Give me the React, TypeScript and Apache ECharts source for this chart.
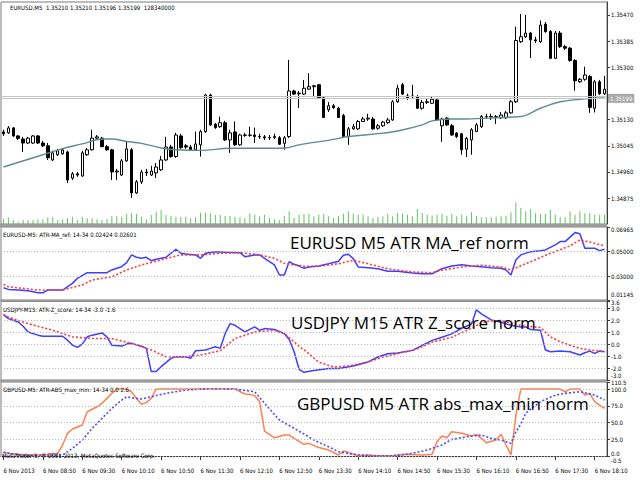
import React, { useEffect, useRef } from "react";
import * as echarts from "echarts";

// ---------- categories (M5 bars, 6 Nov 2013) ----------
const BAR_COUNT = 123;
const FIRST_BAR_MINUTES = 8 * 60 + 10;
const BAR_MINUTES = 5;
const CATEGORIES: string[] = Array.from({ length: BAR_COUNT }, (_, i) => {
  const m = FIRST_BAR_MINUTES + BAR_MINUTES * i;
  return String(Math.floor(m / 60)).padStart(2, "0") + ":" + String(m % 60).padStart(2, "0");
});
const LABEL_EVERY = 8;
const FIRST_LABEL = "6 Nov 2013";
const DAY_PREFIX = "6 Nov ";

// ---------- texts ----------
const HEADER = "EURUSD,M5\u00a0\u00a01.35210 1.35210 1.35196 1.35199\u00a0\u00a0128340000";
const SUB1 = "EURUSD-M5: ATR-MA_ref: 14-34 0.02424 0.02601";
const SUB2 = "USDJPY-M15: ATR-Z_score: 14-34 -3.0 -1.6";
const SUB3 = "GBPUSD-M5: ATR-ABS_max_min: 14-34 0.0 2.6";
const COPYRIGHT = "MetaTrader 5, \u00a9 2001-2013, MetaQuotes Software Corp.";
const TITLE1 = "EURUSD M5 ATR MA_ref norm";
const TITLE2 = "USDJPY M15 ATR Z_score norm";
const TITLE3 = "GBPUSD M5 ATR abs_max_min norm";

// ---------- price (open, close, low, high) ----------
const CANDLES: number[][] = [
  [1.3509, 1.35084, 1.35077, 1.35097], [1.35087, 1.35103, 1.35084, 1.35109], [1.35103, 1.35077, 1.35074, 1.35106],
  [1.35077, 1.35069, 1.35064, 1.3508], [1.35067, 1.35054, 1.35025, 1.35074], [1.35054, 1.3507, 1.35051, 1.35074],
  [1.35054, 1.35077, 1.35051, 1.3508], [1.35077, 1.35054, 1.35051, 1.3508], [1.35054, 1.35045, 1.35041, 1.35061],
  [1.35045, 1.35006, 1.34999, 1.35054], [1.34999, 1.35022, 1.34996, 1.35029], [1.35016, 1.35029, 1.35012, 1.35035],
  [1.35019, 1.35032, 1.35016, 1.35035], [1.35025, 1.34934, 1.34924, 1.35029], [1.3494, 1.34954, 1.34934, 1.3496],
  [1.34954, 1.3495, 1.34944, 1.3496], [1.34947, 1.35022, 1.34944, 1.35029], [1.35016, 1.35032, 1.35012, 1.35038],
  [1.35032, 1.3507, 1.35029, 1.35097], [1.3507, 1.35074, 1.35064, 1.3508], [1.3507, 1.35042, 1.35041, 1.35074],
  [1.35042, 1.35032, 1.35029, 1.35048], [1.35032, 1.3496, 1.34934, 1.35035], [1.3496, 1.34963, 1.34934, 1.3497],
  [1.3495, 1.34996, 1.34947, 1.35002], [1.34996, 1.35035, 1.34993, 1.35058], [1.35032, 1.34892, 1.34876, 1.35038],
  [1.34892, 1.34928, 1.34889, 1.34934], [1.34928, 1.3496, 1.34921, 1.34967], [1.3496, 1.34957, 1.34947, 1.3497],
  [1.3495, 1.34963, 1.34947, 1.3498], [1.34957, 1.34976, 1.3494, 1.34989], [1.34967, 1.34999, 1.34963, 1.35012],
  [1.34999, 1.35041, 1.34996, 1.35074], [1.35041, 1.3501, 1.35006, 1.35048], [1.3501, 1.3508, 1.35006, 1.35087],
  [1.35077, 1.35039, 1.35035, 1.35084], [1.35045, 1.35041, 1.35035, 1.35051], [1.35041, 1.35032, 1.35029, 1.35048],
  [1.35032, 1.35051, 1.35029, 1.35091], [1.35048, 1.35091, 1.3501, 1.35097], [1.35091, 1.3521, 1.35087, 1.35214],
  [1.3521, 1.35113, 1.35109, 1.35214], [1.35115, 1.35104, 1.351, 1.35119], [1.35107, 1.3512, 1.35103, 1.3514],
  [1.3512, 1.35064, 1.35061, 1.35126], [1.35064, 1.35087, 1.35022, 1.35097], [1.3509, 1.35048, 1.35045, 1.35124],
  [1.35048, 1.3508, 1.35045, 1.35084], [1.3508, 1.35079, 1.35074, 1.35087], [1.35079, 1.3508, 1.35074, 1.35107],
  [1.3508, 1.35075, 1.35054, 1.35104], [1.35075, 1.35074, 1.35067, 1.35084], [1.35074, 1.35071, 1.35064, 1.3508],
  [1.35071, 1.35072, 1.35064, 1.3508], [1.35072, 1.35075, 1.35067, 1.35084], [1.35071, 1.3505, 1.35048, 1.35077],
  [1.35053, 1.35071, 1.35032, 1.35077], [1.35075, 1.35223, 1.3507, 1.35324], [1.35223, 1.35213, 1.3521, 1.35227],
  [1.35214, 1.35216, 1.35168, 1.35223], [1.35213, 1.35232, 1.3521, 1.35259], [1.35229, 1.35237, 1.35227, 1.35281],
  [1.35237, 1.3524, 1.35204, 1.35243], [1.35243, 1.35201, 1.352, 1.35246], [1.35201, 1.35137, 1.35136, 1.35207],
  [1.35162, 1.35175, 1.35155, 1.35187], [1.35175, 1.35169, 1.35165, 1.35181], [1.35167, 1.35137, 1.35136, 1.35171],
  [1.35143, 1.35075, 1.3507, 1.35149], [1.35075, 1.351, 1.35048, 1.35106], [1.351, 1.35107, 1.35097, 1.35116],
  [1.351, 1.35124, 1.35097, 1.35129], [1.35124, 1.35132, 1.35123, 1.35139], [1.35132, 1.35135, 1.35126, 1.35149],
  [1.35132, 1.351, 1.35097, 1.35139], [1.35102, 1.3511, 1.35097, 1.35116], [1.3511, 1.35122, 1.35106, 1.35126],
  [1.3512, 1.35129, 1.35116, 1.35136], [1.35129, 1.35188, 1.35126, 1.35194], [1.35188, 1.35232, 1.35184, 1.35243],
  [1.35243, 1.35213, 1.3521, 1.35249], [1.35207, 1.35201, 1.35194, 1.35214], [1.35204, 1.35207, 1.352, 1.35243],
  [1.35205, 1.35167, 1.35165, 1.3521], [1.35167, 1.35186, 1.35162, 1.35194], [1.35186, 1.35188, 1.35181, 1.352],
  [1.35183, 1.35196, 1.35181, 1.35204], [1.35194, 1.35129, 1.35126, 1.352], [1.3511, 1.35132, 1.35058, 1.35136],
  [1.35135, 1.35113, 1.35109, 1.35139], [1.3511, 1.3508, 1.35077, 1.35116], [1.35086, 1.35075, 1.3507, 1.3509],
  [1.35084, 1.35032, 1.35016, 1.35087], [1.35034, 1.35069, 1.35009, 1.35074], [1.35064, 1.35097, 1.35016, 1.35103],
  [1.35091, 1.35113, 1.3509, 1.35119], [1.35107, 1.3514, 1.35103, 1.35145], [1.35139, 1.3514, 1.35132, 1.35149],
  [1.3514, 1.35139, 1.35129, 1.35149], [1.35139, 1.3514, 1.35116, 1.35145], [1.35136, 1.35145, 1.35132, 1.35155],
  [1.35136, 1.35152, 1.35132, 1.35158], [1.35152, 1.35188, 1.35149, 1.35194], [1.35188, 1.35387, 1.35184, 1.35432],
  [1.35383, 1.35399, 1.35379, 1.35473], [1.35399, 1.35411, 1.35395, 1.3547], [1.35411, 1.35389, 1.3533, 1.35415],
  [1.35389, 1.35386, 1.35379, 1.35399], [1.35383, 1.35437, 1.35379, 1.35452], [1.3544, 1.35416, 1.35412, 1.35447],
  [1.35416, 1.35329, 1.35327, 1.35421], [1.35329, 1.35411, 1.35327, 1.35418], [1.35411, 1.35367, 1.35363, 1.35418],
  [1.35367, 1.35362, 1.35356, 1.35373], [1.35362, 1.35322, 1.35318, 1.35366], [1.35322, 1.35256, 1.35224, 1.35327],
  [1.35253, 1.35261, 1.35249, 1.35265], [1.35261, 1.35275, 1.35256, 1.35302], [1.3527, 1.3517, 1.35152, 1.35275],
  [1.35167, 1.35253, 1.35153, 1.35259], [1.35253, 1.35214, 1.3521, 1.35259], [1.35214, 1.35229, 1.3521, 1.35272],
];

const VOLUMES: number[] = [
  200, 268, 160, 92, 160, 160, 160, 188, 188, 268,
  292, 160, 188, 228, 292, 160, 292, 228, 228, 188,
  160, 188, 320, 320, 292, 400, 452, 400, 292, 188,
  360, 492, 560, 360, 320, 292, 292, 292, 228, 268,
  452, 452, 428, 360, 360, 320, 320, 292, 268, 240,
  428, 372, 308, 372, 240, 200, 148, 332, 508, 240,
  372, 412, 412, 308, 372, 412, 308, 240, 308, 412,
  508, 412, 372, 372, 308, 240, 280, 308, 412, 308,
  440, 412, 372, 308, 600, 440, 372, 332, 372, 412,
  332, 412, 308, 372, 308, 468, 332, 268, 268, 268,
  292, 332, 332, 468, 868, 640, 508, 600, 428, 400,
  400, 560, 372, 292, 268, 508, 372, 508, 428, 428,
  372, 372, 372,
];

// moving average on price: [bar index, value]
const MA_POINTS: number[][] = [
  [0, 1.34976], [8, 1.35016], [12, 1.35036], [16, 1.35051], [20, 1.35067], [22, 1.35067], [25, 1.35059],
  [28, 1.35053], [32, 1.35038], [35, 1.35032], [40, 1.3503], [46, 1.35037], [52, 1.35037], [57, 1.35038],
  [60, 1.35048], [67, 1.35066], [70, 1.35075], [77, 1.35086], [80, 1.35093], [85, 1.35113], [87, 1.35126],
  [91, 1.35132], [94, 1.35132], [101, 1.35137], [105, 1.3514], [109, 1.35167], [113, 1.35188], [117, 1.35196],
  [122, 1.352],
];
const BID = 1.35199;
const ASK = 1.35206;

// ---------- panel 2: EURUSD ATR MA_ref ----------
const ATR_MA_BLUE: number[][] = [
  [0, 0.0212], [1, 0.0199], [3, 0.0194], [5, 0.0188], [7, 0.0172], [8, 0.0172], [9, 0.0194], [12, 0.0194],
  [14, 0.0247], [15, 0.0287], [17, 0.0332], [21, 0.0332], [22, 0.0354], [23, 0.0367], [24, 0.038], [25, 0.0412],
  [26, 0.0474], [27, 0.0455], [28, 0.0447], [29, 0.0455], [30, 0.0428], [31, 0.0439], [33, 0.0455], [34, 0.0487],
  [35, 0.0519], [36, 0.0487], [37, 0.0482], [39, 0.0474], [40, 0.0447], [41, 0.0487], [43, 0.05], [45, 0.0495],
  [48, 0.0492], [49, 0.046], [51, 0.0474], [52, 0.0474], [53, 0.0447], [55, 0.0394], [56, 0.0314], [57, 0.0314],
  [58, 0.042], [59, 0.0399], [60, 0.0385], [61, 0.0367], [62, 0.0378], [64, 0.0386], [66, 0.0404], [68, 0.0423],
  [69, 0.0471], [70, 0.0479], [71, 0.0444], [72, 0.0378], [74, 0.0372], [76, 0.0364], [78, 0.0343], [80, 0.0343],
  [83, 0.033], [85, 0.0324], [87, 0.0324], [89, 0.0364], [91, 0.0386], [93, 0.0396], [95, 0.0386], [97, 0.038],
  [99, 0.0372], [101, 0.0367], [102, 0.0354], [103, 0.0314], [104, 0.0434], [105, 0.0474], [107, 0.05],
  [109, 0.0508], [110, 0.0514], [112, 0.0554], [113, 0.058], [114, 0.058], [116, 0.0652], [117, 0.0642],
  [118, 0.0527], [120, 0.0527], [121, 0.0508], [122, 0.0519],
];
const ATR_MA_RED: number[][] = [
  [0, 0.0239], [1, 0.022], [7, 0.0194], [12, 0.0194], [16, 0.0234], [18, 0.0274], [22, 0.03], [25, 0.0354],
  [28, 0.0394], [32, 0.0434], [36, 0.0474], [40, 0.0474], [44, 0.0487], [48, 0.0492], [52, 0.0474], [55, 0.0447],
  [57, 0.0407], [59, 0.0394], [61, 0.0383], [64, 0.0383], [68, 0.0404], [71, 0.0431], [74, 0.0404], [78, 0.0364],
  [83, 0.0338], [87, 0.0332], [89, 0.0351], [93, 0.0378], [97, 0.0392], [101, 0.0378], [103, 0.0354], [107, 0.042],
  [111, 0.0487], [115, 0.0546], [117, 0.0594], [120, 0.0567], [122, 0.0546],
];

// ---------- panel 3: USDJPY ATR Z_score ----------
const ZS_BLUE: number[][] = [
  [0, 2.49], [1, 2.16], [3, 1.88], [4, 1.52], [5, 1.04], [7, 0.77], [8, 0.68], [12, 0.68], [13, 0.35], [14, -0.07],
  [15, -0.26], [16, 0.02], [17, 0.63], [18, 0.77], [20, 0.96], [21, 0.63], [22, -0.07], [24, -0.15], [25, 0.02],
  [26, 0.08], [28, -0.15], [29, -0.34], [30, -2.29], [31, -2.29], [32, -1.88], [34, -1.18], [35, -1.04], [37, -1.04],
  [38, -1.18], [39, -0.54], [41, -0.48], [42, -0.34], [43, -0.21], [44, -0.34], [45, 0.9], [46, 1.74], [47, 1.6],
  [49, 1.04], [51, 1.46], [52, 1.18], [53, 1.32], [55, 1.24], [57, 0.91], [58, 0.41], [59, -0.63], [60, -2.1],
  [61, -2.35], [63, -2.2], [66, -2.04], [68, -2.04], [71, -1.82], [74, -1.48], [76, -1.07], [78, -0.79], [80, -0.73],
  [83, -0.51], [85, -0.09], [87, 0.33], [89, 0.6], [91, 0.88], [93, 1.35], [95, 1.71], [96, 2.91], [97, 2.56],
  [99, 2.05], [101, 1.85], [103, 1.6], [105, 1.46], [106, 1.46], [107, 1.24], [109, 1.18], [110, -0.48], [111, -0.63],
  [113, -0.57], [115, -0.63], [117, -0.9], [118, -0.71], [119, -0.57], [120, -0.76], [121, -0.57], [122, -0.63],
];
const ZS_RED: number[][] = [
  [0, 2.49], [1, 2.29], [5, 1.74], [10, 1.18], [14, 0.63], [18, 0.49], [22, 0.49], [26, 0.08], [30, -0.48],
  [33, -1.04], [36, -1.09], [40, -0.9], [44, -0.54], [47, 0.49], [51, 1.04], [55, 1.18], [57, 0.91], [60, -0.15],
  [62, -0.79], [64, -1.5], [67, -1.9], [70, -1.82], [74, -1.48], [77, -1.07], [80, -0.79], [84, -0.38], [87, 0.18],
  [91, 0.6], [94, 1.16], [96, 1.58], [98, 1.95], [101, 2.0], [105, 1.6], [109, 1.41], [111, 0.63], [113, 0.21],
  [115, -0.07], [117, -0.34], [119, -0.48], [121, -0.57], [122, -0.63],
];

// ---------- panel 4: GBPUSD ATR abs_max_min ----------
const ABS_ORANGE: number[][] = [
  [0, 5.7], [1, 4.2], [3, 2.7], [6, 1.7], [9, 2.7], [11, 4.2], [12, 16.6], [13, 34], [14, 40.4], [16, 46.4],
  [17, 66.2], [19, 73.6], [20, 78.7], [21, 86.1], [22, 93.6], [23, 100], [25, 100], [26, 96], [27, 86.1], [28, 77.2],
  [29, 80.2], [30, 86.1], [31, 100], [47, 100], [49, 92.6], [50, 92.1], [51, 90], [52, 81.1], [53, 37.4], [55, 27.4],
  [57, 31.5], [58, 31.5], [59, 26.5], [61, 17.6], [62, 19.1], [64, 12.8], [66, 9.1], [68, 1.7], [69, 7.6], [70, 5.7],
  [72, 0.6], [74, 1.7], [76, 0.6], [79, 0.6], [82, 2.7], [85, 1.7], [87, 2.7], [88, 21.5], [89, 30], [90, 27.4],
  [91, 36.4], [93, 34], [95, 30], [96, 32.5], [97, 26.5], [98, 20], [100, 24], [101, 32.5], [102, 16.6], [103, 1.7],
  [104, 60], [105, 100], [113, 100], [114, 96], [115, 100], [117, 100], [118, 91], [119, 93.6], [120, 81.1],
  [121, 76.2], [122, 71.2],
];
const ABS_BLUE: number[][] = [
  [0, 5.7], [3, 1.7], [7, 0.6], [12, 1.7], [14, 11.6], [16, 24], [18, 41.4], [20, 56.3], [22, 71.2], [24, 83.6],
  [25, 88.5], [26, 87], [28, 85.1], [30, 88.5], [33, 93.6], [37, 98.5], [41, 100], [47, 100], [51, 96], [53, 78.7],
  [56, 53.8], [59, 41.4], [61, 33], [63, 24], [66, 14], [68, 6.6], [71, 2.7], [75, 0.6], [79, 0.6], [83, 4.2],
  [86, 9.1], [89, 16.6], [91, 25], [94, 28.9], [97, 31.5], [99, 26.5], [101, 24], [103, 19.1], [104, 36], [105, 48],
  [106, 63.8], [107, 70], [109, 81.1], [112, 91], [114, 93.6], [117, 96], [118, 94.5], [120, 91], [122, 83.6],
];

// ---------- axis tick labels (ascending) ----------
const PRICE_TICKS = [1.34875, 1.3496, 1.35045, 1.3513, 1.353, 1.35385, 1.3547];
const ATR_MA_TICKS = [0.01145, 0.03, 0.05, 0.06965];
const ATR_MA_GRID = [0.05, 0.03];
const ZS_TICKS = [-3.0, -2.0, -1.0, 0.0, 1.0, 2.0, 3.0, 3.6];
const ZS_GRID = [3.0, 2.0, 1.0, 0.0, -1.0, -2.0];
const ABS_TICKS = [-0.5, 0, 25, 50, 75, 100, 110.5];
const ABS_GRID = [100, 75, 50, 25, 0];

const SMALL_FONT = "'DejaVu Sans Condensed', 'Liberation Sans', sans-serif";
const SMALL_SIZE = 6;
const BIG_FONT = "'Open Sans', 'Noto Sans', sans-serif";
const FRAME = "#7a7a7a";
const AXIS = "#3c3c3c";

// nudges (px, + = down) for labels sitting at a pane's edge
function yAxisFor(
  gridIndex: number,
  min: number,
  max: number,
  ticks: number[],
  digits: number,
  nudges: Record<string, number> = {},
  showLabels = true
) {
  const keyOf = (n: number) => (n > 0 ? "d" : "u") + String(Math.abs(n)).replace(".", "_");
  const rich: Record<string, any> = {};
  Object.keys(nudges).forEach((k) => {
    const n = nudges[k];
    rich[keyOf(n)] = {
      fontSize: SMALL_SIZE,
      fontFamily: SMALL_FONT,
      color: "#000",
      padding: n > 0 ? [2 * n, 0, 0, 0] : [0, 0, -2 * n, 0],
    };
  });
  return {
    type: "value",
    gridIndex,
    position: "right",
    min,
    max,
    axisLine: { show: true, lineStyle: { color: AXIS, width: 1 } },
    axisTick: { show: true, length: 3, customValues: ticks, lineStyle: { color: AXIS } },
    axisLabel: {
      show: showLabels,
      customValues: ticks,
      hideOverlap: false,
      showMinLabel: true,
      showMaxLabel: true,
      formatter: (v: number) => {
        const s = v.toFixed(digits);
        const n = nudges[s];
        if (!n) return s;
        return "{" + keyOf(n) + "|" + s + "}";
      },
      rich,
      fontSize: SMALL_SIZE,
      fontFamily: SMALL_FONT,
      color: "#000",
      margin: 4,
    },
    splitLine: { show: false },
  };
}

function gridMarks(values: number[]) {
  return {
    symbol: "none",
    silent: true,
    precision: 5,
    label: { show: false },
    lineStyle: { color: "#b8b8b8", type: [1, 2], width: 1 },
    data: values.map((v) => ({ yAxis: v })),
  };
}

function txt(x: number, y: number, text: string, size: number, family: string) {
  return {
    type: "text",
    x,
    y,
    z: 100,
    silent: true,
    style: {
      text,
      fill: "#000",
      fontSize: size,
      fontFamily: family,
      textVerticalAlign: "middle",
      verticalAlign: "middle",
    },
  };
}

function band(y: number, h: number) {
  return {
    type: "rect",
    z: 50,
    silent: true,
    shape: { x: 0, y, width: 607, height: h },
    style: { fill: "#9c9c9c" },
  };
}

export default function App() {
  const ref = useRef<HTMLDivElement>(null);
  useEffect(() => {
    if (!ref.current) return;
    const chart = echarts.init(ref.current, undefined, { renderer: "svg" });
    const gridBase = { left: 1, width: 606, show: true, borderColor: FRAME, borderWidth: 1, backgroundColor: "transparent" };
    const hiddenX = (gridIndex: number) => ({ type: "category", gridIndex, data: CATEGORIES, show: false });
    const baseGraphic: any[] = [
      band(224, 3),
      band(300, 1.5),
      band(380, 2),
      txt(10, 7.5, HEADER, SMALL_SIZE, SMALL_FONT),
      txt(3, 234.5, SUB1, SMALL_SIZE, SMALL_FONT),
      txt(3, 309, SUB2, SMALL_SIZE, SMALL_FONT),
      txt(3, 389, SUB3, SMALL_SIZE, SMALL_FONT),
      txt(2, 455, COPYRIGHT, SMALL_SIZE, SMALL_FONT),
      txt(290, 242, TITLE1, 17, BIG_FONT),
      txt(291, 322, TITLE2, 17, BIG_FONT),
      txt(297, 403, TITLE3, 17, BIG_FONT),
    ];
    const option: any = {
      animation: false,
      backgroundColor: "#ffffff",
      grid: [
        { ...gridBase, top: 2, height: 222 },
        { left: 1, width: 606, top: 200, height: 24, show: false },
        { ...gridBase, top: 227, height: 73 },
        { ...gridBase, top: 301.5, height: 78.5 },
        { ...gridBase, top: 382, height: 74.5 },
      ],
      xAxis: [
        hiddenX(0),
        hiddenX(1),
        hiddenX(2),
        hiddenX(3),
        {
          type: "category",
          gridIndex: 4,
          data: CATEGORIES,
          axisLine: { show: true, lineStyle: { color: AXIS } },
          axisTick: {
            show: true,
            length: 4,
            alignWithLabel: true,
            interval: (i: number) => i % LABEL_EVERY === 0,
            lineStyle: { color: AXIS },
          },
          axisLabel: {
            interval: (i: number) => i % LABEL_EVERY === 0,
            formatter: (v: string, i: number) => (i === 0 ? FIRST_LABEL : DAY_PREFIX + v),
            align: "left",
            fontSize: SMALL_SIZE,
            fontFamily: SMALL_FONT,
            color: "#000",
            margin: 11,
          },
        },
      ],
      yAxis: [
        yAxisFor(0, 1.34791, 1.35512, PRICE_TICKS, 5, {}, false),
        { type: "value", gridIndex: 1, min: 0, max: 960, show: false },
        yAxisFor(2, 0.01145, 0.06965, ATR_MA_TICKS, 5, { "0.06965": 2, "0.01145": -6 }),
        yAxisFor(3, -3.0, 3.6, ZS_TICKS, 1, { "3.6": 1, "-3.0": -5 }),
        yAxisFor(4, -0.5, 110.5, ABS_TICKS, 1, { "110.5": 0.5, "0.0": -3, "-0.5": 4 }),
      ],
      series: [
        {
          type: "bar",
          xAxisIndex: 1,
          yAxisIndex: 1,
          data: VOLUMES,
          barWidth: 1,
          itemStyle: { color: "#62c462" },
          silent: true,
        },
        {
          type: "candlestick",
          xAxisIndex: 0,
          yAxisIndex: 0,
          data: CANDLES,
          barWidth: 3,
          itemStyle: { color: "#ffffff", color0: "#000000", borderColor: "#000000", borderColor0: "#000000", borderWidth: 1 },
        },
        {
          type: "line",
          xAxisIndex: 0,
          yAxisIndex: 0,
          data: MA_POINTS,
          symbol: "none",
          smooth: 0.4,
          lineStyle: { color: "#5e8c8c", width: 1.4 },
          markLine: {
            symbol: "none",
            silent: true,
            precision: 5,
            lineStyle: { color: "#c4c4c4", width: 1, type: "solid" },
            data: [
              {
                yAxis: BID,
                label: {
                  show: true,
                  position: "end",
                  distance: 1,
                  formatter: BID.toFixed(5),
                  backgroundColor: "#a9a9a9",
                  color: "#ffffff",
                  fontSize: SMALL_SIZE,
                  fontFamily: SMALL_FONT,
                  padding: [2, 2, 1, 2],
                },
              },
              { yAxis: ASK, label: { show: false } },
            ],
          },
        },
        {
          type: "line",
          xAxisIndex: 2,
          yAxisIndex: 2,
          data: ATR_MA_BLUE,
          symbol: "none",
          lineStyle: { color: "#3f3fff", width: 1.5 },
          markLine: gridMarks(ATR_MA_GRID),
        },
        {
          type: "line",
          xAxisIndex: 2,
          yAxisIndex: 2,
          data: ATR_MA_RED,
          symbol: "none",
          lineStyle: { color: "#ff3a3a", width: 1.6, type: [2, 2] },
        },
        {
          type: "line",
          xAxisIndex: 3,
          yAxisIndex: 3,
          data: ZS_BLUE,
          symbol: "none",
          lineStyle: { color: "#3f3fff", width: 1.5 },
          markLine: gridMarks(ZS_GRID),
        },
        {
          type: "line",
          xAxisIndex: 3,
          yAxisIndex: 3,
          data: ZS_RED,
          symbol: "none",
          lineStyle: { color: "#ff3a3a", width: 1.6, type: [2, 2] },
        },
        {
          type: "line",
          xAxisIndex: 4,
          yAxisIndex: 4,
          data: ABS_ORANGE,
          symbol: "none",
          lineStyle: { color: "#ff7f50", width: 1.5 },
          markLine: gridMarks(ABS_GRID),
        },
        {
          type: "line",
          xAxisIndex: 4,
          yAxisIndex: 4,
          data: ABS_BLUE,
          symbol: "none",
          lineStyle: { color: "#4b4bff", width: 1.6, type: [2, 2] },
        },
      ],
      graphic: baseGraphic,
    };
    chart.setOption(option);
    // price-axis labels placed through the axis' own scale
    const axisX = (chart.convertToPixel({ xAxisIndex: 0 }, CATEGORIES.length - 1) as number);
    const rightEdge = 607;
    const priceLabels = PRICE_TICKS.map((v) => {
      const py = chart.convertToPixel({ yAxisIndex: 0 }, v) as number;
      return txt(rightEdge + 4, py, v.toFixed(5), SMALL_SIZE, SMALL_FONT);
    });
    void axisX;
    chart.setOption({ graphic: [...baseGraphic, ...priceLabels] });
    return () => chart.dispose();
  }, []);
  return (
    <div
      ref={ref}
      style={{ position: "fixed", left: 0, top: 0, width: 640, height: 480, background: "#fff" }}
    />
  );
}
